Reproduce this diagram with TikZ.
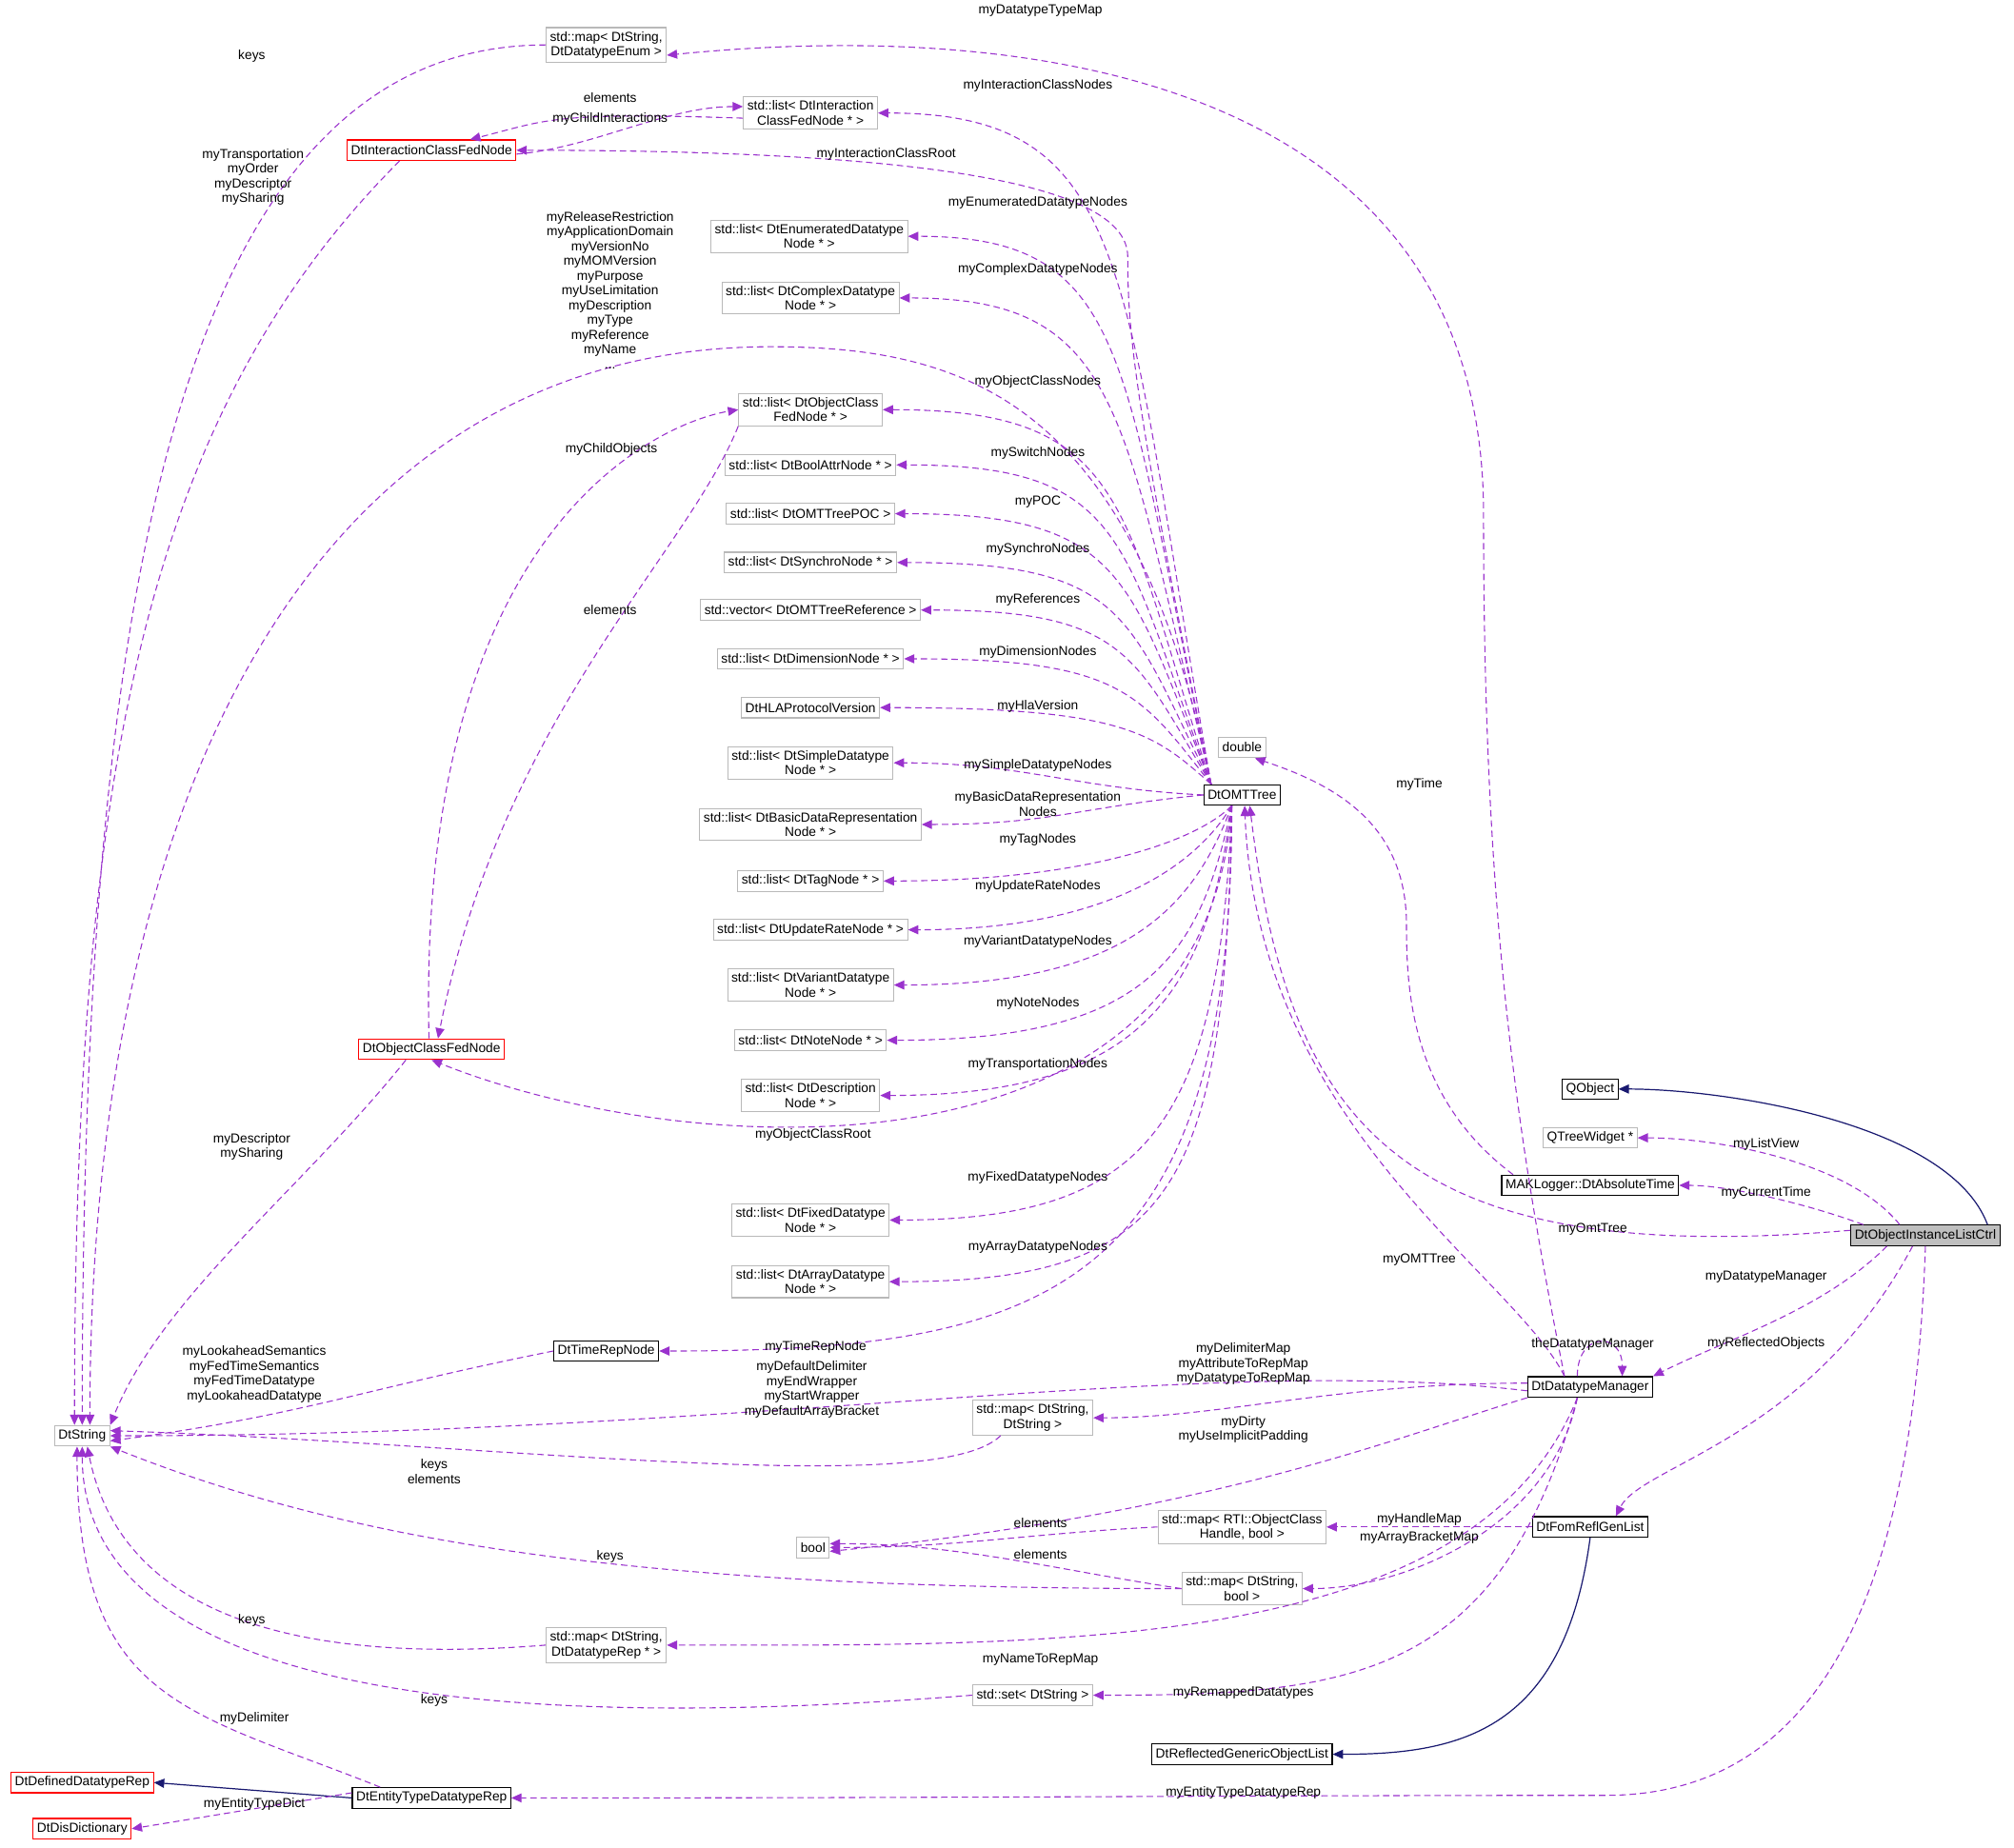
\documentclass[tikz,border=0pt]{standalone}
\usepackage{fontspec}
\setmainfont{Liberation Sans}
\usetikzlibrary{arrows.meta}
\definecolor{dep}{HTML}{9A32CD}
\definecolor{inh}{HTML}{191970}
\begin{document}
\begin{tikzpicture}[x=1pt,y=-1pt,
  every node/.style={font=\fontsize{10.2}{11.5}\selectfont},
  box/.style={draw=gray!55,fill=white,inner sep=3pt,minimum height=16pt,align=center,line width=0.8pt},
  bbox/.style={box,draw=black},
  rbox/.style={box,draw=red},
  lbl/.style={align=center,inner sep=0pt},
  dep/.style={draw=dep,dashed,dash pattern=on 5pt off 3pt,line width=0.8pt,-{Triangle[length=8pt,width=7pt]}},
  inh/.style={draw=inh,line width=0.9pt,-{Triangle[length=8pt,width=7pt]}}]
\useasboundingbox (0,0) rectangle (1568,1439);
% nodes
\node[box] (mapde) at (472,35) {std::map< DtString,\\DtDatatypeEnum >};
\node[box] (listic) at (631,88) {std::list< DtInteraction\\ClassFedNode * >};
\node[rbox] (icfn) at (336,117) {DtInteractionClassFedNode};
\node[box] (listenum) at (630,184) {std::list< DtEnumeratedDatatype\\Node * >};
\node[box] (listcplx) at (631,232) {std::list< DtComplexDatatype\\Node * >};
\node[box] (listoc) at (631,319) {std::list< DtObjectClass\\FedNode * >};
\node[box] (listbool) at (631,362) {std::list< DtBoolAttrNode * >};
\node[box] (listpoc) at (631,400) {std::list< DtOMTTreePOC >};
\node[box] (listsync) at (631,438) {std::list< DtSynchroNode * >};
\node[box] (vecref) at (631,475) {std::vector< DtOMTTreeReference >};
\node[box] (listdim) at (631,513) {std::list< DtDimensionNode * >};
\node[box] (hla) at (631,551) {DtHLAProtocolVersion};
\node[box] (listsimple) at (631,594) {std::list< DtSimpleDatatype\\Node * >};
\node[box] (listbdr) at (631,642) {std::list< DtBasicDataRepresentation\\Node * >};
\node[box] (listtag) at (631,686) {std::list< DtTagNode * >};
\node[box] (listur) at (631,724) {std::list< DtUpdateRateNode * >};
\node[box] (listvar) at (631,767) {std::list< DtVariantDatatype\\Node * >};
\node[box] (listnote) at (631,810) {std::list< DtNoteNode * >};
\node[box] (listdesc) at (631,853) {std::list< DtDescription\\Node * >};
\node[rbox] (ocfn) at (336,817) {DtObjectClassFedNode};
\node[box] (listfixed) at (631,950) {std::list< DtFixedDatatype\\Node * >};
\node[box] (listarray) at (631,998) {std::list< DtArrayDatatype\\Node * >};
\node[bbox] (timerep) at (472,1052) {DtTimeRepNode};
\node[box] (dtstr) at (64,1118) {DtString};
\node[box] (double) at (967,582) {double};
\node[bbox] (omt) at (967,619) {DtOMTTree};
\node[bbox] (qobj) at (1238,848) {QObject};
\node[box] (qtree) at (1238,886) {QTreeWidget *};
\node[bbox] (mak) at (1238,923) {MAKLogger::DtAbsoluteTime};
\node[bbox,fill=gray!50] (doilc) at (1499,962) {DtObjectInstanceListCtrl};
\node[bbox] (dm) at (1238,1080) {DtDatatypeManager};
\node[box] (mapss) at (804,1104) {std::map< DtString,\\DtString >};
\node[box] (bool) at (633,1205) {bool};
\node[box] (maprti) at (967,1189) {std::map< RTI::ObjectClass\\Handle, bool >};
\node[bbox] (frgl) at (1238,1189) {DtFomReflGenList};
\node[box] (mapsb) at (967,1237) {std::map< DtString,\\bool >};
\node[box] (maprep) at (472,1281) {std::map< DtString,\\DtDatatypeRep * >};
\node[box] (sets) at (804,1320) {std::set< DtString >};
\node[bbox] (reflgen) at (967,1366) {DtReflectedGenericObjectList};
\node[rbox] (defined) at (64,1388) {DtDefinedDatatypeRep};
\node[bbox] (entity) at (336,1400) {DtEntityTypeDatatypeRep};
\node[rbox] (dis) at (64,1424) {DtDisDictionary};
% OMT upward edges
\coordinate (o) at ([xshift=6]omt.north west);
\draw[dep] (o) .. controls +(-70,-400) and +(200,0) .. (listic.east);
\draw[dep] (o) .. controls +(-60,-300) and +(0,60) .. (878,200) .. controls +(0,-60) and +(300,0) .. (icfn.east);
\draw[dep] (o) .. controls +(-70,-330) and +(175,0) .. (listenum.east);
\draw[dep] (o) .. controls +(-70,-290) and +(175,0) .. (listcplx.east);
\draw[dep] (o) .. controls +(-70,-220) and +(190,0) .. (listoc.east);
\draw[dep] (o) .. controls +(-70,-190) and +(180,0) .. (listbool.east);
\draw[dep] (o) .. controls +(-65,-160) and +(180,0) .. (listpoc.east);
\draw[dep] (o) .. controls +(-65,-130) and +(180,0) .. (listsync.east);
\draw[dep] (o) .. controls +(-60,-100) and +(160,0) .. (vecref.east);
\draw[dep] (o) .. controls +(-55,-70) and +(170,0) .. (listdim.east);
\draw[dep] (o) .. controls +(-45,-40) and +(190,0) .. (hla.east);
\draw[dep] (omt.west) .. controls +(-100,-5) and +(100,0) .. (listsimple.east);
\draw[dep] (omt.west) .. controls +(-100,10) and +(100,0) .. (listbdr.east);
\coordinate (s) at ([xshift=-8]omt.south);
\draw[dep] (s) .. controls +(-30,30) and +(150,0) .. (listtag.east);
\draw[dep] (s) .. controls +(-30,50) and +(150,0) .. (listur.east);
\draw[dep] (s) .. controls +(-30,80) and +(180,0) .. (listvar.east);
\draw[dep] (s) .. controls +(-25,120) and +(200,0) .. (listnote.east);
\draw[dep] (s) .. controls +(-20,150) and +(200,0) .. (listdesc.east);
\draw[dep] (s) .. controls +(-20,300) and +(200,80) .. (ocfn.south);
\draw[dep] (s) .. controls +(-10,250) and +(200,0) .. (listfixed.east);
\draw[dep] (s) .. controls +(-5,300) and +(220,0) .. (listarray.east);
\draw[dep] (s) .. controls +(0,380) and +(300,0) .. (timerep.east);
\draw[dep] (o) .. controls +(-60,-300) and +(150,0) .. (600,270) .. controls +(-350,0) and +(0,-500) .. ([xshift=6]dtstr.north);
% DM edges
\draw[dep] ([xshift=-20]dm.north) .. controls +(-40,-200) and +(0,300) .. (1155,400) .. controls +(0,-330) and +(300,-30) .. ([yshift=-8]mapde.east);
\draw[dep] ([xshift=-20]dm.north) .. controls +(-40,-80) and +(10,250) .. ([xshift=2]omt.south);
\draw[dep] ([xshift=-10]dm.north) .. controls +(0,-35) and +(0,-35) .. ([xshift=25]dm.north);
\draw[dep] ([yshift=-3]dm.west) .. controls +(-250,-30) and +(500,0) .. (dtstr.east);
\draw[dep] ([yshift=3]dm.west) .. controls +(-150,0) and +(100,0) .. (mapss.east);
\draw[dep] (dm.south west) .. controls +(-100,30) and +(300,-30) .. ([yshift=-3]bool.east);
\draw[dep] ([xshift=-10]dm.south) .. controls +(-20,100) and +(80,0) .. (mapsb.east);
\draw[dep] ([xshift=-10]dm.south) .. controls +(-80,200) and +(300,0) .. (maprep.east);
\draw[dep] ([xshift=-10]dm.south) .. controls +(-60,220) and +(200,0) .. (sets.east);
% other edges to DtString
\draw[dep] (mapde.west) .. controls +(-300,0) and +(0,-600) .. (dtstr.north);
\draw[dep] ([xshift=-25]icfn.south) .. controls +(-200,200) and +(0,-500) .. ([xshift=-6]dtstr.north);
\draw[dep] ([xshift=-20]ocfn.south) .. controls +(-80,100) and +(40,-100) .. (dtstr.north east);
\draw[dep] (timerep.west) .. controls +(-150,30) and +(150,-20) .. ([yshift=-4]dtstr.east);
\draw[dep] ([xshift=-25]mapss.south) .. controls +(-50,50) and +(300,10) .. ([yshift=4]dtstr.east);
\draw[dep] (mapsb.west) .. controls +(-400,0) and +(200,80) .. (dtstr.south east);
\draw[dep] (maprep.west) .. controls +(-250,20) and +(20,100) .. ([xshift=4]dtstr.south);
\draw[dep] (sets.west) .. controls +(-500,40) and +(0,150) .. ([xshift=0]dtstr.south);
\draw[dep] ([xshift=-40]entity.north) .. controls +(-150,-60) and +(0,200) .. ([xshift=-4]dtstr.south);
% bool
\draw[dep] (maprti.west) .. controls +(-100,5) and +(100,0) .. (bool.east);
\draw[dep] (mapsb.west) .. controls +(-100,-15) and +(100,0) .. ([yshift=3]bool.east);
\draw[dep] (frgl.west) -- (maprti.east);
% DOILC
\draw[inh] ([xshift=-10]doilc.north east) .. controls +(-30,-80) and +(80,0) .. (qobj.east);
\draw[dep] ([xshift=-20]doilc.north) .. controls +(-40,-50) and +(60,0) .. (qtree.east);
\draw[dep] ([xshift=10]doilc.north west) .. controls +(-40,-15) and +(40,0) .. (mak.east);
\draw[dep] ([yshift=4]doilc.west) .. controls +(-350,30) and +(30,250) .. ([xshift=6]omt.south);
\draw[dep] ([xshift=-30]doilc.south) .. controls +(-50,50) and +(60,-30) .. (dm.north east);
\draw[dep] ([xshift=-10]doilc.south) .. controls +(-80,150) and +(20,-40) .. ([xshift=20]frgl.north);
\draw[dep] (doilc.south) .. controls +(-10,300) and +(150,0) .. (1250,1398) .. controls +(-300,0) and +(400,0) .. (entity.east);
\draw[dep] ([xshift=-60]mak.north) .. controls +(-80,-60) and +(0,50) .. (1095,720) .. controls +(0,-80) and +(60,20) .. ([xshift=10]double.south);
\draw[inh] (frgl.south) .. controls +(-20,150) and +(100,0) .. (reflgen.east);
\draw[inh] (entity.west) -- (defined.east);
\draw[dep] ([yshift=4]entity.west) -- (dis.east);
% IC / OC cross
\draw[dep] ([yshift=-4]listic.west) .. controls +(-150,-5) and +(60,-15) .. ([xshift=30]icfn.north);
\draw[dep] ([yshift=-3]icfn.east) .. controls +(60,-5) and +(-60,0) .. ([yshift=5]listic.west);
\draw[dep] (listoc.south west) .. controls +(-40,100) and +(50,-250) .. ([xshift=5]ocfn.north);
\draw[dep] ([xshift=-2]ocfn.north) .. controls +(-10,-400) and +(-60,10) .. (listoc.west);
% labels
\node[lbl] at (810,8) {myDatatypeTypeMap};
\node[lbl] at (196,44) {keys};
\node[lbl] at (475,76) {elements};
\node[lbl] at (475,93) {myChildInteractions};
\node[lbl] at (808,67) {myInteractionClassNodes};
\node[lbl] at (690,120) {myInteractionClassRoot};
\node[lbl] at (197,138) {myTransportation\\myOrder\\myDescriptor\\mySharing};
\node[lbl] at (808,158) {myEnumeratedDatatypeNodes};
\node[lbl] at (808,210) {myComplexDatatypeNodes};
\node[lbl] at (475,226) {myReleaseRestriction\\myApplicationDomain\\myVersionNo\\myMOMVersion\\myPurpose\\myUseLimitation\\myDescription\\myType\\myReference\\myName\\...};
\node[lbl] at (808,297) {myObjectClassNodes};
\node[lbl] at (476,350) {myChildObjects};
\node[lbl] at (808,353) {mySwitchNodes};
\node[lbl] at (808,391) {myPOC};
\node[lbl] at (808,428) {mySynchroNodes};
\node[lbl] at (475,475) {elements};
\node[lbl] at (808,467) {myReferences};
\node[lbl] at (808,508) {myDimensionNodes};
\node[lbl] at (808,550) {myHlaVersion};
\node[lbl] at (808,596) {mySimpleDatatypeNodes};
\node[lbl] at (808,626) {myBasicDataRepresentation\\Nodes};
\node[lbl] at (808,654) {myTagNodes};
\node[lbl] at (808,690) {myUpdateRateNodes};
\node[lbl] at (808,733) {myVariantDatatypeNodes};
\node[lbl] at (808,781) {myNoteNodes};
\node[lbl] at (808,829) {myTransportationNodes};
\node[lbl] at (633,884) {myObjectClassRoot};
\node[lbl] at (196,893) {myDescriptor\\mySharing};
\node[lbl] at (808,917) {myFixedDatatypeNodes};
\node[lbl] at (808,971) {myArrayDatatypeNodes};
\node[lbl] at (1105,611) {myTime};
\node[lbl] at (1375,891) {myListView};
\node[lbl] at (1375,929) {myCurrentTime};
\node[lbl] at (1240,957) {myOmtTree};
\node[lbl] at (1105,981) {myOMTTree};
\node[lbl] at (1375,994) {myDatatypeManager};
\node[lbl] at (1375,1046) {myReflectedObjects};
\node[lbl] at (1240,1047) {theDatatypeManager};
\node[lbl] at (635,1049) {myTimeRepNode};
\node[lbl] at (198,1070) {myLookaheadSemantics\\myFedTimeSemantics\\myFedTimeDatatype\\myLookaheadDatatype};
\node[lbl] at (632,1082) {myDefaultDelimiter\\myEndWrapper\\myStartWrapper\\myDefaultArrayBracket};
\node[lbl] at (968,1062) {myDelimiterMap\\myAttributeToRepMap\\myDatatypeToRepMap};
\node[lbl] at (968,1113) {myDirty\\myUseImplicitPadding};
\node[lbl] at (338,1146) {keys\\elements};
\node[lbl] at (810,1186) {elements};
\node[lbl] at (1105,1183) {myHandleMap};
\node[lbl] at (1105,1197) {myArrayBracketMap};
\node[lbl] at (810,1210) {elements};
\node[lbl] at (475,1212) {keys};
\node[lbl] at (196,1262) {keys};
\node[lbl] at (810,1292) {myNameToRepMap};
\node[lbl] at (338,1324) {keys};
\node[lbl] at (968,1318) {myRemappedDatatypes};
\node[lbl] at (198,1338) {myDelimiter};
\node[lbl] at (968,1396) {myEntityTypeDatatypeRep};
\node[lbl] at (198,1405) {myEntityTypeDict};
\end{tikzpicture}
\end{document}
